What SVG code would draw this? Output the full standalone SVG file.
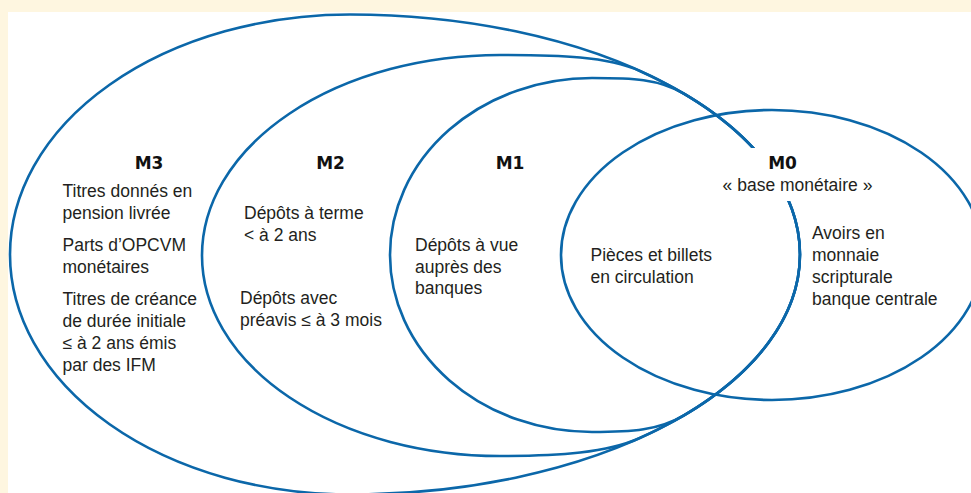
<svg xmlns="http://www.w3.org/2000/svg" width="971" height="493" viewBox="0 0 971 493">
<style>
.ring{fill:none;stroke:#0b67a9;stroke-width:2.6}
.t{font-family:"Liberation Sans",Arial,sans-serif;font-size:17.5px;fill:#231f20}
.h{font-family:"DejaVu Sans","Liberation Sans",sans-serif;font-size:17px;font-weight:bold;fill:#111;text-anchor:middle}
.c{text-anchor:middle}
</style>
<rect x="0" y="0" width="971" height="493" fill="#fef6e0"/>
<rect x="8" y="12" width="963" height="481" fill="#ffffff"/>
<g id="M3">
<path class="ring" d="M10,254.5 A340,240 0 0 1 350,14.5 A450,240 0 0 1 800,254.5 A450,240 0 0 1 350,494.5 A340,240 0 0 1 10,254.5 Z"/>
<text class="h" x="149" y="168.5">M3</text>
<text class="t" x="62.5" y="196.5">Titres donnés en</text>
<text class="t" x="62.5" y="218.5">pension livrée</text>
<text class="t" x="62.5" y="250.5">Parts d’OPCVM</text>
<text class="t" x="62.5" y="272.5">monétaires</text>
<text class="t" x="62.5" y="304.5">Titres de créance</text>
<text class="t" x="62.5" y="326.5">de durée initiale</text>
<text class="t" x="62.5" y="348.5">≤ à 2 ans émis</text>
<text class="t" x="62.5" y="370.5">par des IFM</text>
</g>
<g id="M2">
<path class="ring" d="M500,55 C560,55 607.3,56.4 639.3,70.7 A450,240 0 0 1 639.3,438.3 C607.3,452.6 560,456 500,456 A298,200.5 0 0 1 202,255.5 A298,200.5 0 0 1 500,55 Z"/>
<text class="h" x="330.5" y="168.5">M2</text>
<text class="t" x="244" y="219">Dépôts à terme</text>
<text class="t" x="244" y="241">&lt; à 2 ans</text>
<text class="t" x="240" y="304">Dépôts avec</text>
<text class="t" x="240" y="326">préavis ≤ à 3 mois</text>
</g>
<g id="M1">
<path class="ring" d="M592,78 C632,78 658.6,78.6 684.4,93.9 A450,240 0 0 1 684.4,415.1 C658.6,430.4 632,432 592,432 A202,177 0 0 1 390,255 A202,177 0 0 1 592,78 Z"/>
<text class="h" x="510" y="168.5">M1</text>
<text class="t" x="415" y="251">Dépôts à vue</text>
<text class="t" x="415" y="272.5">auprès des</text>
<text class="t" x="415" y="294">banques</text>
</g>
<g id="M0">
<ellipse class="ring" cx="772" cy="255" rx="211" ry="145"/>
<rect x="716" y="148" width="164" height="53" fill="#ffffff"/>
<text class="h" x="782.5" y="168.5">M0</text>
<text class="t c" x="797.5" y="190.5">« base monétaire »</text>
<text class="t" x="590.5" y="261">Pièces et billets</text>
<text class="t" x="590.5" y="283">en circulation</text>
<text class="t" x="812" y="239">Avoirs en</text>
<text class="t" x="812" y="261">monnaie</text>
<text class="t" x="812" y="283">scripturale</text>
<text class="t" x="812" y="305">banque centrale</text>
</g>
</svg>
